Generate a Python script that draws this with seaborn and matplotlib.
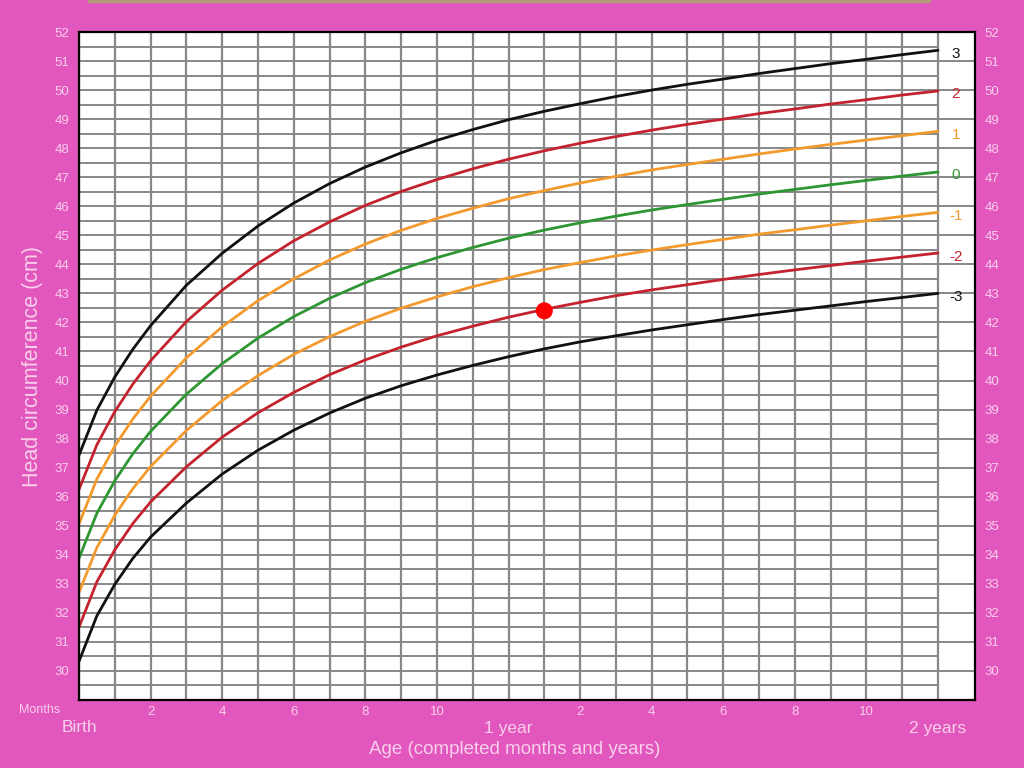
import numpy as np
import pandas as pd
import matplotlib
matplotlib.use("Agg")
import matplotlib.pyplot as plt
import matplotlib.transforms as mtransforms
from matplotlib.patches import Rectangle
import seaborn as sns

# --- DATA: head circumference for age, girls, 0-24 months (cm) ---------------
AGE = [0, 0.5, 1, 1.5, 2, 3, 4, 5, 6, 7, 8, 9, 10, 11, 12,
       13, 14, 15, 16, 17, 18, 19, 20, 21, 22, 23, 24]
SD3NEG = [30.33, 31.90, 32.98, 33.87, 34.61, 35.78, 36.78, 37.60, 38.29, 38.88, 39.39,
          39.82, 40.19, 40.52, 40.82, 41.09, 41.33, 41.54, 41.74, 41.92, 42.10, 42.27,
          42.42, 42.57, 42.72, 42.86, 43.00]
SD2NEG = [31.51, 33.07, 34.17, 35.07, 35.82, 37.03, 38.05, 38.89, 39.59, 40.20, 40.71,
          41.15, 41.54, 41.87, 42.18, 42.45, 42.69, 42.92, 43.12, 43.30, 43.48, 43.65,
          43.81, 43.96, 44.11, 44.25, 44.39]
SD1NEG = [32.70, 34.25, 35.36, 36.27, 37.04, 38.28, 39.31, 40.17, 40.90, 41.51, 42.04,
          42.49, 42.88, 43.23, 43.54, 43.82, 44.06, 44.29, 44.49, 44.68, 44.86, 45.04,
          45.19, 45.35, 45.50, 45.65, 45.79]
SD0 = [33.88, 35.43, 36.55, 37.47, 38.25, 39.53, 40.58, 41.46, 42.20, 42.83, 43.37,
       43.83, 44.23, 44.58, 44.90, 45.18, 45.43, 45.66, 45.87, 46.06, 46.24, 46.42,
       46.58, 46.74, 46.89, 47.04, 47.18]
SD1 = [35.06, 36.61, 37.74, 38.67, 39.46, 40.78, 41.85, 42.75, 43.50, 44.15, 44.70,
       45.17, 45.58, 45.93, 46.26, 46.54, 46.80, 47.03, 47.25, 47.44, 47.62, 47.80,
       47.97, 48.13, 48.28, 48.43, 48.58]
SD2 = [36.25, 37.79, 38.93, 39.87, 40.68, 42.03, 43.11, 44.03, 44.81, 45.46, 46.03,
       46.51, 46.92, 47.29, 47.62, 47.91, 48.17, 48.40, 48.62, 48.82, 49.00, 49.19,
       49.35, 49.52, 49.67, 49.83, 49.97]
SD3 = [37.43, 38.98, 40.12, 41.07, 41.89, 43.28, 44.38, 45.32, 46.11, 46.78, 47.35,
       47.84, 48.27, 48.64, 48.98, 49.27, 49.53, 49.78, 50.00, 50.20, 50.38, 50.57,
       50.74, 50.91, 51.06, 51.22, 51.37]

CURVE_NAMES = ["3", "2", "1", "0", "-1", "-2", "-3"]
CURVE_VALUES = [SD3, SD2, SD1, SD0, SD1NEG, SD2NEG, SD3NEG]

CHILD_AGE = [13]
CHILD_HC = [42.4]

GRID_MONTHS = list(range(0, 25))
Y_TICKS = list(range(30, 53))
X_TICKS = [2, 4, 6, 8, 10, 12, 14, 16, 18, 20, 22, 24]
X_TICK_LABELS = ["2", "4", "6", "8", "10", "", "2", "4", "6", "8", "10", ""]

# --- STYLE --------------------------------------------------------------------
PINK = "#E157BD"
TEXT = "#F9CFEC"
GRID = "#888888"
PALETTE = {"3": "#111111", "2": "#C4232E", "1": "#F39A2E", "0": "#2E9632",
           "-1": "#F39A2E", "-2": "#C4232E", "-3": "#111111"}

sns.set_theme(style="white")
plt.rcParams["font.family"] = ["Liberation Sans Narrow", "Liberation Sans", "DejaVu Sans"]

df = pd.concat(
    [pd.DataFrame({"month": AGE, "hc": vals, "z": name})
     for name, vals in zip(CURVE_NAMES, CURVE_VALUES)],
    ignore_index=True)

fig = plt.figure(figsize=(10.24, 7.68), dpi=100, facecolor=PINK)
ax = fig.add_axes([79 / 1024, 68 / 768, 896 / 1024, 668 / 768])
ax.set_facecolor("white")

XMAX = 24 + 37 / 35.8
ax.set_xlim(0, XMAX)
ax.set_ylim(29, 52)

# grid: months vertical, half-cm horizontal in chart area, whole cm across label column
ax.vlines(GRID_MONTHS, 29, 52, color=GRID, lw=1.6, zorder=1)
halves = np.arange(29.5, 52, 1.0)
ax.hlines(halves, 0, 24, color=GRID, lw=1.4, zorder=1)
ax.hlines(range(29, 53), 0, XMAX, color=GRID, lw=1.4, zorder=1)

sns.lineplot(data=df, x="month", y="hc", hue="z", palette=PALETTE,
             hue_order=CURVE_NAMES, lw=2, legend=False, ax=ax, zorder=3)
sns.scatterplot(x=CHILD_AGE, y=CHILD_HC, color="#FF0000", s=150, edgecolor="none",
                ax=ax, zorder=5)

# z-score labels in the right column
for name, vals in zip(CURVE_NAMES, CURVE_VALUES):
    ax.text(24.5, vals[-1] - 0.12, name, color=PALETTE[name], fontsize=11,
            ha="center", va="center", zorder=4)

for s in ax.spines.values():
    s.set_color("black")
    s.set_linewidth(1.6)
    s.set_zorder(6)

ax.set_yticks(Y_TICKS)
ax.set_yticklabels([str(v) for v in Y_TICKS])
ax.tick_params(axis="y", which="major", length=0, pad=7, labelsize=9.5,
               labelcolor=TEXT, labelleft=True, labelright=True)
ax.set_xticks(X_TICKS)
ax.set_xticklabels(X_TICK_LABELS)
ax.tick_params(axis="x", which="major", length=0, pad=4, labelsize=9.5, labelcolor=TEXT)
ax.set_xticks([12, 24], minor=True)
ax.tick_params(axis="x", which="minor", length=9, width=1.5, color="#b98aae", bottom=True)
ax.set_xlabel("")
ax.set_ylabel("")

trans = mtransforms.blended_transform_factory(ax.transData, fig.transFigure)
ax.text(12, 1 - 728 / 768, "1 year", transform=trans, ha="center", va="center",
        color=TEXT, fontsize=12.5)
ax.text(24, 1 - 728 / 768, "2 years", transform=trans, ha="center", va="center",
        color=TEXT, fontsize=12.5)
ax.text(0, 1 - 728 / 768, "Birth", transform=trans, ha="center", va="center",
        color=TEXT, fontsize=12.5)
fig.text(40 / 1024, 1 - 710 / 768, "Months", ha="center", va="center",
         color=TEXT, fontsize=9)
fig.text(515 / 1024, 1 - 750 / 768, "Age (completed months and years)", ha="center",
         va="center", color=TEXT, fontsize=13.5)
fig.text(33 / 1024, 1 - 367 / 768, "Head circumference (cm)", ha="center",
         va="center", rotation=90, color=TEXT, fontsize=15.5)

# thin tan strip at the top edge
fig.patches.append(Rectangle((88 / 1024, 1 - 2 / 768), 842 / 1024, 2 / 768,
                             transform=fig.transFigure, color="#b59a78", zorder=0))

fig.savefig("out.png", dpi=100, facecolor=PINK)
